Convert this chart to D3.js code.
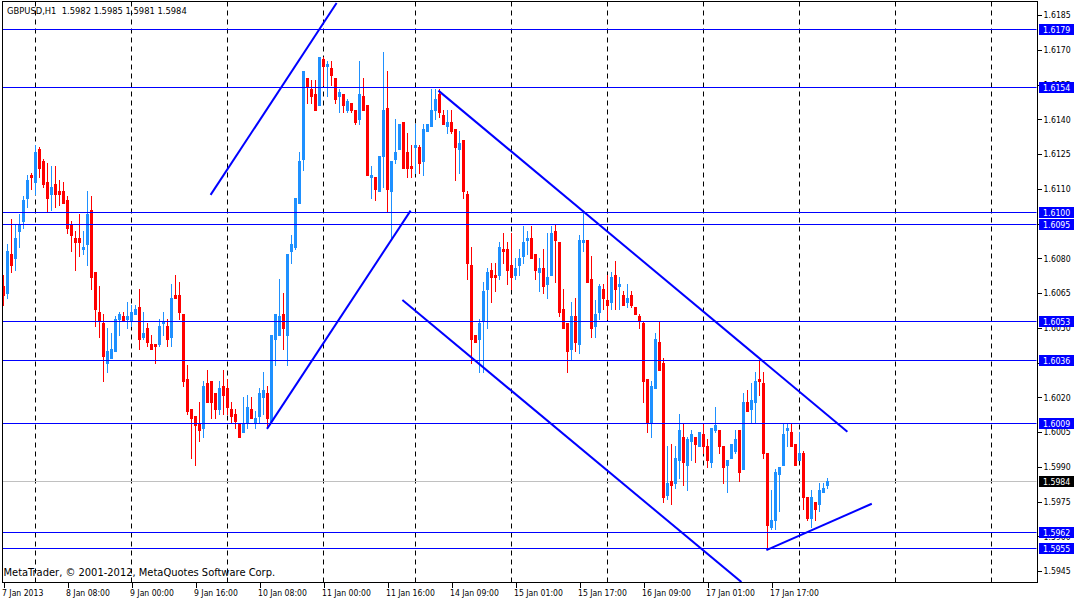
<!DOCTYPE html>
<html><head><meta charset="utf-8">
<script src="https://cdn.jsdelivr.net/npm/d3@7"></script>
<style>html,body{margin:0;padding:0;background:#fff;overflow:hidden}
text{font-family:"DejaVu Sans Condensed","DejaVu Sans",sans-serif;font-size:9px;white-space:pre}</style>
</head><body>
<svg id="c" width="1075" height="599"></svg>
<script>
const chartTitle = "GBPUSD,H1  1.5982 1.5985 1.5981 1.5984";
const copyright = "MetaTrader, \u00a9 2001-2012, MetaQuotes Software Corp.";

const opens = [1.6068,1.6065,1.6082,1.6080,1.6092,1.6096,1.6106,1.6116,1.6113,1.6127,1.6122,1.6113,1.6108,1.6112,1.6109,1.6109,1.6105,1.6095,1.6089,1.6089,1.6084,1.6086,1.6101,1.6074,1.6057,1.6052,1.6035,1.6037,1.6040,1.6054,1.6055,1.6054,1.6053,1.6056,1.6059,1.6046,1.6050,1.6043,1.6043,1.6043,1.6052,1.6051,1.6046,1.6064,1.6064,1.6056,1.6028,1.6015,1.6012,1.6009,1.6007,1.6026,1.6027,1.6022,1.6015,1.6025,1.6024,1.6015,1.6013,1.6009,1.6005,1.6009,1.6015,1.6009,1.6012,1.6020,1.6022,1.6010,1.6045,1.6047,1.6056,1.6047,1.6083,1.6085,1.6104,1.6123,1.6158,1.6153,1.6151,1.6146,1.6166,1.6163,1.6162,1.6158,1.6150,1.6151,1.6144,1.6147,1.6144,1.6140,1.6150,1.6146,1.6115,1.6115,1.6109,1.6124,1.6145,1.6109,1.6123,1.6127,1.6139,1.6126,1.6120,1.6128,1.6128,1.6122,1.6135,1.6137,1.6144,1.6151,1.6142,1.6137,1.6139,1.6136,1.6127,1.6131,1.6108,1.6077,1.6047,1.6045,1.6053,1.6067,1.6075,1.6073,1.6073,1.6084,1.6084,1.6077,1.6073,1.6077,1.6081,1.6088,1.6089,1.6082,1.6074,1.6076,1.6069,1.6073,1.6092,1.6087,1.6058,1.6052,1.6041,1.6055,1.6043,1.6087,1.6088,1.6071,1.6051,1.6057,1.6067,1.6062,1.6061,1.6073,1.6068,1.6064,1.6061,1.6064,1.6059,1.6055,1.6052,1.6028,1.6009,1.6024,1.6044,1.6035,1.5978,1.5984,1.5983,1.5993,1.6003,1.5991,1.6001,1.6003,1.5999,1.6004,1.5999,1.5992,1.6006,1.6006,1.5999,1.5991,1.5994,1.5997,1.6006,1.5989,1.6018,1.6015,1.6018,1.6028,1.6026,1.5996,1.5964,1.5967,1.5987,1.5991,1.6006,1.6005,1.6000,1.5993,1.5996,1.5977,1.5968,1.5975,1.5974,1.5979,1.5982];
const highs = [1.6073,1.6086,1.6097,1.6095,1.6099,1.6107,1.6116,1.6117,1.6129,1.6128,1.6123,1.6121,1.6120,1.6120,1.6114,1.6113,1.6107,1.6096,1.6092,1.6099,1.6092,1.6109,1.6107,1.6074,1.6068,1.6056,1.6050,1.6048,1.6055,1.6057,1.6057,1.6061,1.6060,1.6060,1.6067,1.6057,1.6052,1.6047,1.6043,1.6054,1.6057,1.6054,1.6069,1.6073,1.6070,1.6056,1.6034,1.6015,1.6012,1.6018,1.6027,1.6032,1.6027,1.6022,1.6027,1.6032,1.6028,1.6018,1.6015,1.6009,1.6020,1.6021,1.6020,1.6014,1.6024,1.6031,1.6025,1.6047,1.6056,1.6071,1.6065,1.6082,1.6090,1.6106,1.6126,1.6161,1.6158,1.6157,1.6157,1.6167,1.6167,1.6165,1.6165,1.6158,1.6153,1.6151,1.6149,1.6147,1.6144,1.6165,1.6158,1.6146,1.6120,1.6115,1.6124,1.6169,1.6161,1.6122,1.6140,1.6138,1.6139,1.6134,1.6129,1.6138,1.6129,1.6138,1.6138,1.6153,1.6153,1.6153,1.6144,1.6144,1.6144,1.6136,1.6135,1.6131,1.6109,1.6085,1.6047,1.6054,1.6070,1.6076,1.6078,1.6078,1.6087,1.6091,1.6087,1.6091,1.6080,1.6084,1.6094,1.6092,1.6094,1.6082,1.6080,1.6084,1.6091,1.6094,1.6095,1.6087,1.6067,1.6052,1.6061,1.6063,1.6090,1.6100,1.6088,1.6081,1.6062,1.6069,1.6069,1.6073,1.6074,1.6079,1.6072,1.6066,1.6069,1.6066,1.6059,1.6056,1.6053,1.6028,1.6027,1.6048,1.6053,1.6037,1.5999,1.6000,1.5999,1.6013,1.6009,1.6003,1.6006,1.6003,1.6005,1.6009,1.6002,1.6007,1.6016,1.6006,1.5999,1.5993,1.6000,1.6006,1.6006,1.6022,1.6023,1.6026,1.6031,1.6036,1.6031,1.5996,1.5980,1.5989,1.5990,1.6009,1.6009,1.6009,1.6000,1.6005,1.5997,1.5977,1.5980,1.5975,1.5983,1.5983,1.5985];
const lows = [1.6060,1.6063,1.6074,1.6075,1.6085,1.6093,1.6102,1.6110,1.6108,1.6115,1.6111,1.6100,1.6101,1.6102,1.6103,1.6104,1.6091,1.6083,1.6075,1.6081,1.6082,1.6077,1.6067,1.6051,1.6046,1.6027,1.6031,1.6037,1.6040,1.6047,1.6053,1.6050,1.6051,1.6056,1.6041,1.6045,1.6042,1.6041,1.6035,1.6042,1.6047,1.6042,1.6042,1.6063,1.6054,1.6025,1.6013,1.5994,1.5991,1.6001,1.6003,1.6018,1.6011,1.6011,1.6013,1.6013,1.6013,1.6009,1.6007,1.6003,1.6005,1.6007,1.6011,1.6007,1.6009,1.6013,1.6007,1.6010,1.6034,1.6047,1.6041,1.6034,1.6078,1.6084,1.6104,1.6118,1.6147,1.6147,1.6144,1.6146,1.6155,1.6150,1.6155,1.6147,1.6143,1.6143,1.6143,1.6143,1.6138,1.6138,1.6144,1.6116,1.6106,1.6105,1.6109,1.6111,1.6100,1.6088,1.6121,1.6127,1.6119,1.6115,1.6115,1.6117,1.6117,1.6116,1.6135,1.6137,1.6140,1.6141,1.6138,1.6134,1.6134,1.6114,1.6117,1.6106,1.6071,1.6035,1.6044,1.6031,1.6031,1.6050,1.6061,1.6066,1.6071,1.6078,1.6069,1.6067,1.6071,1.6073,1.6078,1.6082,1.6080,1.6071,1.6066,1.6065,1.6063,1.6073,1.6070,1.6055,1.6050,1.6031,1.6036,1.6040,1.6039,1.6083,1.6070,1.6046,1.6046,1.6054,1.6058,1.6054,1.6058,1.6058,1.6058,1.6060,1.6059,1.6059,1.6056,1.6050,1.6018,1.6005,1.6003,1.6024,1.6032,1.5975,1.5976,1.5974,1.5981,1.5985,1.5982,1.5980,1.5993,1.5992,1.5999,1.5996,1.5990,1.5990,1.6005,1.5996,1.5983,1.5979,1.5994,1.5996,1.5984,1.5989,1.6014,1.6009,1.6009,1.6021,1.5994,1.5955,1.5963,1.5963,1.5971,1.5991,1.5999,1.5999,1.5991,1.5993,1.5972,1.5967,1.5964,1.5967,1.5971,1.5979,1.5981];
const closes = [1.6064,1.6083,1.6077,1.6089,1.6095,1.6105,1.6114,1.6115,1.6126,1.6119,1.6112,1.6106,1.6111,1.6108,1.6108,1.6104,1.6093,1.6090,1.6087,1.6087,1.6085,1.6099,1.6072,1.6058,1.6053,1.6038,1.6040,1.6041,1.6054,1.6056,1.6053,1.6055,1.6057,1.6058,1.6045,1.6048,1.6044,1.6041,1.6042,1.6051,1.6053,1.6045,1.6063,1.6063,1.6057,1.6027,1.6014,1.6011,1.6008,1.6006,1.6025,1.6018,1.6018,1.6015,1.6024,1.6021,1.6016,1.6012,1.6010,1.6003,1.6009,1.6016,1.6011,1.6011,1.6022,1.6023,1.6011,1.6047,1.6056,1.6055,1.6050,1.6082,1.6086,1.6106,1.6122,1.6161,1.6154,1.6150,1.6144,1.6167,1.6163,1.6164,1.6159,1.6149,1.6152,1.6146,1.6148,1.6144,1.6139,1.6151,1.6144,1.6116,1.6116,1.6110,1.6124,1.6144,1.6110,1.6122,1.6126,1.6138,1.6119,1.6119,1.6119,1.6129,1.6121,1.6136,1.6138,1.6144,1.6149,1.6143,1.6138,1.6139,1.6135,1.6128,1.6130,1.6109,1.6078,1.6045,1.6044,1.6052,1.6066,1.6074,1.6072,1.6072,1.6085,1.6083,1.6075,1.6072,1.6076,1.6080,1.6087,1.6089,1.6080,1.6075,1.6076,1.6068,1.6072,1.6091,1.6088,1.6057,1.6050,1.6040,1.6055,1.6044,1.6088,1.6088,1.6070,1.6050,1.6056,1.6068,1.6063,1.6060,1.6072,1.6067,1.6069,1.6060,1.6063,1.6060,1.6056,1.6053,1.6027,1.6009,1.6025,1.6045,1.6032,1.5977,1.5983,1.5982,1.5994,1.6006,1.5992,1.6002,1.6004,1.6000,1.6005,1.5999,1.5993,1.6007,1.6008,1.5999,1.5990,1.5993,1.6000,1.6002,1.5988,1.6018,1.6014,1.6019,1.6027,1.6027,1.5996,1.5965,1.5967,1.5988,1.5990,1.6004,1.6007,1.5999,1.5991,1.5996,1.5977,1.5968,1.5977,1.5972,1.5980,1.5981,1.5984];

const timeLabels = ["7 Jan 2013","8 Jan 08:00","9 Jan 00:00","9 Jan 16:00","10 Jan 08:00","11 Jan 00:00","11 Jan 16:00","14 Jan 09:00","15 Jan 01:00","15 Jan 17:00","16 Jan 09:00","17 Jan 01:00","17 Jan 17:00"];
const timeLabelBars = [0,16,32,48,64,80,96,112,128,144,160,176,192];
const dayStartBars = [8,32,56,80,103,127,151,175,199,223,247];
const priceTicks = [1.6185,1.6170,1.6155,1.6140,1.6125,1.6110,1.6095,1.6080,1.6065,1.6050,1.6035,1.6020,1.6005,1.5990,1.5975,1.5960,1.5945];
const levelLines = [1.6179,1.6154,1.6100,1.6095,1.6053,1.6036,1.6009,1.5962,1.5955];
const bidPrice = 1.5984;
const trendStartBar = [51.9, 66.0, 108.85, 99.85, 190.85];
const trendStartPrice = [1.61074, 1.60064, 1.61524, 1.60620, 1.59541];
const trendEndBar = [83.4, 101.9, 211.1, 184.6, 217.2];
const trendEndPrice = [1.61902, 1.61006, 1.60052, 1.59403, 1.59741];

const W = 1075, H = 599;
const L = 2, R = 1037, T = 1.5, B = 582.5;
const svg = d3.select("#c");
const x = d3.scaleLinear().domain([0, 258]).range([3, 3 + 4 * 258]);
const y = d3.scaleLinear().domain([1.594033, 1.619065]).range([582, 2]);
const bull = "#1E90FF", bear = "#FF0000", lineBlue = "#0000FF";

// font size that makes a sample string reach a target width
function fitSize(sample, target) {
  const t = svg.append("text").style("font-size", "10px").text(sample);
  const w = t.node().getComputedTextLength();
  t.remove();
  return (10 * target / w).toFixed(2) + "px";
}
const titleSize = fitSize(chartTitle, 180);
const copySize = fitSize(copyright, 272);
const priceSize = fitSize("1.6185", 27.3);
const timeSize = fitSize("8 Jan 08:00", 44);

svg.append("rect").attr("width", W).attr("height", H).attr("fill", "#fff");
svg.append("defs").append("clipPath").attr("id", "plot")
  .append("rect").attr("x", L + 0.5).attr("y", T + 0.5).attr("width", R - L - 1).attr("height", B - T - 1);
const g = svg.append("g").attr("clip-path", "url(#plot)");

// vertical dashed day separators
g.selectAll("line.grid").data(dayStartBars).join("line")
  .attr("x1", d => Math.round(x(d)) + 0.5).attr("x2", d => Math.round(x(d)) + 0.5)
  .attr("y1", T).attr("y2", B)
  .attr("stroke", "#000").attr("stroke-width", 1).attr("stroke-dasharray", "5,4");

// bid line
g.append("line").attr("x1", L).attr("x2", R)
  .attr("y1", Math.round(y(bidPrice)) + 0.5).attr("y2", Math.round(y(bidPrice)) + 0.5)
  .attr("stroke", "#C0C0C0");

// candles
const idx = d3.range(opens.length);
const cg = g.append("g").attr("shape-rendering", "crispEdges");
cg.selectAll("rect.wick").data(idx).join("rect")
  .attr("x", i => Math.round(x(i)))
  .attr("y", i => Math.round(y(highs[i])))
  .attr("width", 1)
  .attr("height", i => Math.round(y(lows[i])) - Math.round(y(highs[i])) + 1)
  .attr("fill", i => closes[i] >= opens[i] ? bull : bear);
cg.selectAll("rect.body").data(idx).join("rect")
  .attr("x", i => Math.round(x(i)) - 1)
  .attr("y", i => Math.round(y(Math.max(opens[i], closes[i]))))
  .attr("width", 3)
  .attr("height", i => Math.max(1, Math.round(y(Math.min(opens[i], closes[i]))) - Math.round(y(Math.max(opens[i], closes[i]))) + 1))
  .attr("fill", i => closes[i] >= opens[i] ? bull : bear);

// horizontal level lines
g.selectAll("line.level").data(levelLines).join("line")
  .attr("x1", L).attr("x2", R)
  .attr("y1", d => Math.round(y(d)) + 0.5).attr("y2", d => Math.round(y(d)) + 0.5)
  .attr("stroke", lineBlue).attr("stroke-width", 1).attr("shape-rendering", "crispEdges");

// trend lines
g.selectAll("line.trend").data(trendStartBar).join("line")
  .attr("x1", (d, i) => x(trendStartBar[i])).attr("y1", (d, i) => y(trendStartPrice[i]))
  .attr("x2", (d, i) => x(trendEndBar[i])).attr("y2", (d, i) => y(trendEndPrice[i]))
  .attr("stroke", lineBlue).attr("stroke-width", 2);

// frame
svg.append("rect").attr("x", L + 0.5).attr("y", T).attr("width", R - L).attr("height", B - T)
  .attr("fill", "none").attr("stroke", "#000").attr("shape-rendering", "crispEdges");

// right price axis
const ya = d3.axisRight(y).tickValues(priceTicks).tickSize(4).tickPadding(2).tickFormat(d3.format(".4f"));
const yAxis = svg.append("g").attr("transform", `translate(${R + 0.5},0)`).call(ya);
yAxis.select(".domain").remove();
yAxis.selectAll("line").attr("stroke", "#000").attr("shape-rendering", "crispEdges");
yAxis.selectAll("text").attr("fill", "#000").style("font-size", priceSize);

// level labels on axis
const lab = svg.append("g");
const allLabels = levelLines.map(v => ({v, bg: lineBlue})).concat([{v: bidPrice, bg: "#000"}]);
lab.selectAll("rect").data(allLabels).join("rect")
  .attr("x", R + 2).attr("y", d => Math.round(y(d.v)) - 5).attr("width", 35).attr("height", 11)
  .attr("fill", d => d.bg).attr("shape-rendering", "crispEdges");
lab.selectAll("text").data(allLabels).join("text")
  .attr("x", R + 6).attr("y", d => Math.round(y(d.v)) + 4)
  .attr("fill", "#fff").style("font-size", priceSize).text(d => d3.format(".4f")(d.v));

// bottom time axis
const xa = d3.axisBottom(x).tickValues(timeLabelBars).tickSize(5).tickFormat((d, i) => timeLabels[i]);
const xAxis = svg.append("g").attr("transform", `translate(0.5,${B})`).call(xa);
xAxis.select(".domain").remove();
xAxis.selectAll("line").attr("stroke", "#000").attr("shape-rendering", "crispEdges");
xAxis.selectAll("text").attr("fill", "#000").style("font-size", timeSize)
  .attr("text-anchor", "start").attr("dy", null).attr("y", 13.5)
  .attr("x", (d, i) => i === 0 ? -2 : -2);

// texts
svg.append("text").attr("x", 7).attr("y", 14).attr("fill", "#000").style("font-size", titleSize).text(chartTitle);
svg.append("text").attr("x", 3.5).attr("y", 576).attr("fill", "#000").style("font-size", copySize).text(copyright);
</script>
</body></html>
